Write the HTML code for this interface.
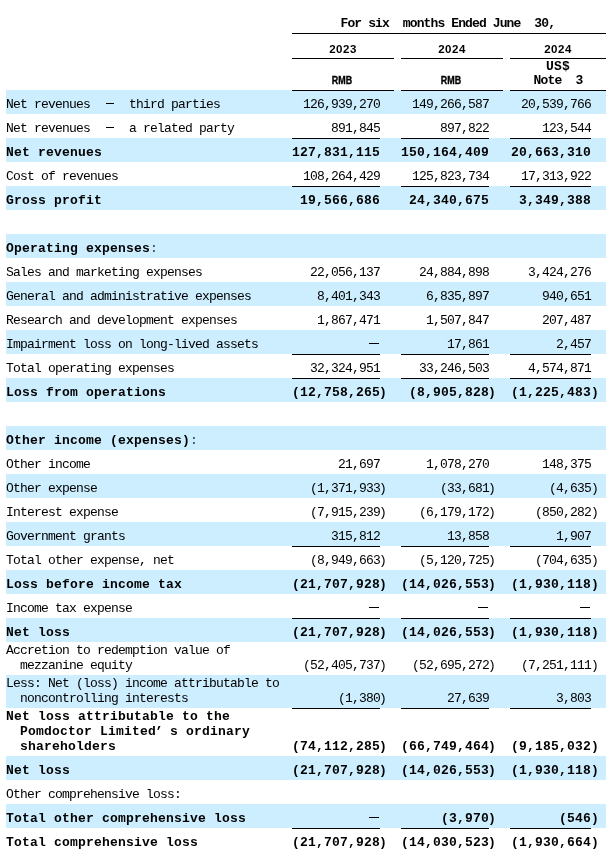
<!DOCTYPE html>
<html><head><meta charset="utf-8"><style>
html,body{margin:0;padding:0;background:#fff;}
body{-webkit-font-smoothing:antialiased;will-change:transform;width:611px;height:850px;overflow:hidden;position:relative;font-family:"Liberation Mono",monospace;font-size:13px;color:#000;}
.b{position:absolute;left:6px;width:600px;background:#cceeff;}
.l{position:absolute;height:1px;background:#000;}
.t{position:absolute;white-space:pre;line-height:15px;letter-spacing:-0.8px;}
.t.B{font-weight:bold;letter-spacing:0.2px;}
.r{text-align:right;}
.h{position:absolute;white-space:pre;line-height:15px;font-weight:bold;}
</style></head><body>

<div class="b" style="top:90px;height:24px"></div>
<div class="b" style="top:138px;height:24px"></div>
<div class="b" style="top:186px;height:24px"></div>
<div class="b" style="top:234px;height:24px"></div>
<div class="b" style="top:282px;height:24px"></div>
<div class="b" style="top:330px;height:24px"></div>
<div class="b" style="top:378px;height:24px"></div>
<div class="b" style="top:426px;height:24px"></div>
<div class="b" style="top:474px;height:24px"></div>
<div class="b" style="top:522px;height:24px"></div>
<div class="b" style="top:570px;height:24px"></div>
<div class="b" style="top:618px;height:24px"></div>
<div class="b" style="top:675px;height:33px"></div>
<div class="b" style="top:756px;height:24px"></div>
<div class="b" style="top:804px;height:24px"></div>
<div class="l" style="top:33px;left:292px;width:314px"></div>
<div class="l" style="top:58px;left:292px;width:102px"></div>
<div class="l" style="top:90px;left:292px;width:102px"></div>
<div class="l" style="top:58px;left:401px;width:102px"></div>
<div class="l" style="top:90px;left:401px;width:102px"></div>
<div class="l" style="top:58px;left:510px;width:96px"></div>
<div class="l" style="top:90px;left:510px;width:96px"></div>
<div class="h" style="top:16px;left:340.5px;font-size:13px;letter-spacing:-0.88px">For six  months Ended June  30,</div>
<div class="h" style="top:42px;left:303px;width:80px;text-align:center;font-family:'Liberation Sans',sans-serif;font-size:11.5px;letter-spacing:0.5px">2023</div>
<div class="h" style="top:42px;left:412px;width:80px;text-align:center;font-family:'Liberation Sans',sans-serif;font-size:11.5px;letter-spacing:0.5px">2024</div>
<div class="h" style="top:42px;left:518px;width:80px;text-align:center;font-family:'Liberation Sans',sans-serif;font-size:11.5px;letter-spacing:0.5px">2024</div>
<div class="h" style="top:73px;left:302px;width:80px;text-align:center;font-family:'Liberation Sans',sans-serif;font-size:10.5px;transform:scaleX(0.85);-webkit-text-stroke:0.35px #000">RMB</div>
<div class="h" style="top:73px;left:411px;width:80px;text-align:center;font-family:'Liberation Sans',sans-serif;font-size:10.5px;transform:scaleX(0.85);-webkit-text-stroke:0.35px #000">RMB</div>
<div class="h" style="top:59px;left:518px;width:80px;text-align:center;font-size:13px;letter-spacing:0.2px">US$</div>
<div class="h" style="top:73px;left:518px;width:80px;text-align:center;font-size:13px;letter-spacing:-0.8px">Note  3</div>
<div class="t" style="top:97px;left:6px">Net revenues</div>
<div class="l" style="top:103px;left:106px;width:8px"></div>
<div class="t" style="top:97px;left:129px">third parties</div>
<div class="t r" style="top:97px;right:231px">126,939,270</div>
<div class="t r" style="top:97px;right:122px">149,266,587</div>
<div class="t r" style="top:97px;right:20px">20,539,766</div>
<div class="t" style="top:121px;left:6px">Net revenues</div>
<div class="l" style="top:127px;left:106px;width:8px"></div>
<div class="t" style="top:121px;left:129px">a related party</div>
<div class="t r" style="top:121px;right:231px">891,845</div>
<div class="t r" style="top:121px;right:122px">897,822</div>
<div class="t r" style="top:121px;right:20px">123,544</div>
<div class="l" style="top:138px;left:292px;width:88px"></div>
<div class="l" style="top:138px;left:401px;width:88px"></div>
<div class="l" style="top:138px;left:510px;width:81px"></div>
<div class="t B" style="top:145px;left:6px">Net revenues</div>
<div class="t B r" style="top:145px;right:231px">127,831,115</div>
<div class="t B r" style="top:145px;right:122px">150,164,409</div>
<div class="t B r" style="top:145px;right:20px">20,663,310</div>
<div class="t" style="top:169px;left:6px">Cost of revenues</div>
<div class="t r" style="top:169px;right:231px">108,264,429</div>
<div class="t r" style="top:169px;right:122px">125,823,734</div>
<div class="t r" style="top:169px;right:20px">17,313,922</div>
<div class="l" style="top:186px;left:292px;width:88px"></div>
<div class="l" style="top:186px;left:401px;width:88px"></div>
<div class="l" style="top:186px;left:510px;width:81px"></div>
<div class="t B" style="top:193px;left:6px">Gross profit</div>
<div class="t B r" style="top:193px;right:231px">19,566,686</div>
<div class="t B r" style="top:193px;right:122px">24,340,675</div>
<div class="t B r" style="top:193px;right:20px">3,349,388</div>
<div class="t B" style="top:241px;left:6px">Operating expenses</div>
<div class="t" style="top:241px;left:150px;color:#333">:</div>
<div class="t" style="top:265px;left:6px">Sales and marketing expenses</div>
<div class="t r" style="top:265px;right:231px">22,056,137</div>
<div class="t r" style="top:265px;right:122px">24,884,898</div>
<div class="t r" style="top:265px;right:20px">3,424,276</div>
<div class="t" style="top:289px;left:6px">General and administrative expenses</div>
<div class="t r" style="top:289px;right:231px">8,401,343</div>
<div class="t r" style="top:289px;right:122px">6,835,897</div>
<div class="t r" style="top:289px;right:20px">940,651</div>
<div class="t" style="top:313px;left:6px">Research and development expenses</div>
<div class="t r" style="top:313px;right:231px">1,867,471</div>
<div class="t r" style="top:313px;right:122px">1,507,847</div>
<div class="t r" style="top:313px;right:20px">207,487</div>
<div class="t" style="top:337px;left:6px">Impairment loss on long-lived assets</div>
<div class="l" style="top:343px;left:369px;width:10px"></div>
<div class="t r" style="top:337px;right:122px">17,861</div>
<div class="t r" style="top:337px;right:20px">2,457</div>
<div class="l" style="top:354px;left:292px;width:88px"></div>
<div class="l" style="top:354px;left:401px;width:88px"></div>
<div class="l" style="top:354px;left:510px;width:81px"></div>
<div class="t" style="top:361px;left:6px">Total operating expenses</div>
<div class="t r" style="top:361px;right:231px">32,324,951</div>
<div class="t r" style="top:361px;right:122px">33,246,503</div>
<div class="t r" style="top:361px;right:20px">4,574,871</div>
<div class="l" style="top:378px;left:292px;width:88px"></div>
<div class="l" style="top:378px;left:401px;width:88px"></div>
<div class="l" style="top:378px;left:510px;width:81px"></div>
<div class="t B" style="top:385px;left:6px">Loss from operations</div>
<div class="t B r" style="top:385px;right:231px">(12,758,265</div>
<div class="t B" style="top:385px;left:379px">)</div>
<div class="t B r" style="top:385px;right:122px">(8,905,828</div>
<div class="t B" style="top:385px;left:488px">)</div>
<div class="t B r" style="top:385px;right:20px">(1,225,483</div>
<div class="t B" style="top:385px;left:591px">)</div>
<div class="t B" style="top:433px;left:6px">Other income (expenses)</div>
<div class="t" style="top:433px;left:190px;color:#333">:</div>
<div class="t" style="top:457px;left:6px">Other income</div>
<div class="t r" style="top:457px;right:231px">21,697</div>
<div class="t r" style="top:457px;right:122px">1,078,270</div>
<div class="t r" style="top:457px;right:20px">148,375</div>
<div class="t" style="top:481px;left:6px">Other expense</div>
<div class="t r" style="top:481px;right:231px">(1,371,933</div>
<div class="t" style="top:481px;left:379px">)</div>
<div class="t r" style="top:481px;right:122px">(33,681</div>
<div class="t" style="top:481px;left:488px">)</div>
<div class="t r" style="top:481px;right:20px">(4,635</div>
<div class="t" style="top:481px;left:591px">)</div>
<div class="t" style="top:505px;left:6px">Interest expense</div>
<div class="t r" style="top:505px;right:231px">(7,915,239</div>
<div class="t" style="top:505px;left:379px">)</div>
<div class="t r" style="top:505px;right:122px">(6,179,172</div>
<div class="t" style="top:505px;left:488px">)</div>
<div class="t r" style="top:505px;right:20px">(850,282</div>
<div class="t" style="top:505px;left:591px">)</div>
<div class="t" style="top:529px;left:6px">Government grants</div>
<div class="t r" style="top:529px;right:231px">315,812</div>
<div class="t r" style="top:529px;right:122px">13,858</div>
<div class="t r" style="top:529px;right:20px">1,907</div>
<div class="l" style="top:546px;left:292px;width:88px"></div>
<div class="l" style="top:546px;left:401px;width:88px"></div>
<div class="l" style="top:546px;left:510px;width:81px"></div>
<div class="t" style="top:553px;left:6px">Total other expense, net</div>
<div class="t r" style="top:553px;right:231px">(8,949,663</div>
<div class="t" style="top:553px;left:379px">)</div>
<div class="t r" style="top:553px;right:122px">(5,120,725</div>
<div class="t" style="top:553px;left:488px">)</div>
<div class="t r" style="top:553px;right:20px">(704,635</div>
<div class="t" style="top:553px;left:591px">)</div>
<div class="t B" style="top:577px;left:6px">Loss before income tax</div>
<div class="t B r" style="top:577px;right:231px">(21,707,928</div>
<div class="t B" style="top:577px;left:379px">)</div>
<div class="t B r" style="top:577px;right:122px">(14,026,553</div>
<div class="t B" style="top:577px;left:488px">)</div>
<div class="t B r" style="top:577px;right:20px">(1,930,118</div>
<div class="t B" style="top:577px;left:591px">)</div>
<div class="t" style="top:601px;left:6px">Income tax expense</div>
<div class="l" style="top:607px;left:369px;width:10px"></div>
<div class="l" style="top:607px;left:478px;width:10px"></div>
<div class="l" style="top:607px;left:580px;width:10px"></div>
<div class="l" style="top:618px;left:292px;width:88px"></div>
<div class="l" style="top:618px;left:401px;width:88px"></div>
<div class="l" style="top:618px;left:510px;width:81px"></div>
<div class="t B" style="top:625px;left:6px">Net loss</div>
<div class="t B r" style="top:625px;right:231px">(21,707,928</div>
<div class="t B" style="top:625px;left:379px">)</div>
<div class="t B r" style="top:625px;right:122px">(14,026,553</div>
<div class="t B" style="top:625px;left:488px">)</div>
<div class="t B r" style="top:625px;right:20px">(1,930,118</div>
<div class="t B" style="top:625px;left:591px">)</div>
<div class="t" style="top:643px;left:6px">Accretion to redemption value of</div>
<div class="t" style="top:658px;left:6px">  mezzanine equity</div>
<div class="t r" style="top:658px;right:231px">(52,405,737</div>
<div class="t" style="top:658px;left:379px">)</div>
<div class="t r" style="top:658px;right:122px">(52,695,272</div>
<div class="t" style="top:658px;left:488px">)</div>
<div class="t r" style="top:658px;right:20px">(7,251,111</div>
<div class="t" style="top:658px;left:591px">)</div>
<div class="t" style="top:676px;left:6px">Less: Net (loss) income attributable to</div>
<div class="t" style="top:691px;left:6px">  noncontrolling interests</div>
<div class="t r" style="top:691px;right:231px">(1,380</div>
<div class="t" style="top:691px;left:379px">)</div>
<div class="t r" style="top:691px;right:122px">27,639</div>
<div class="t r" style="top:691px;right:20px">3,803</div>
<div class="l" style="top:708px;left:292px;width:88px"></div>
<div class="l" style="top:708px;left:401px;width:88px"></div>
<div class="l" style="top:708px;left:510px;width:81px"></div>
<div class="t B" style="top:709px;left:6px">Net loss attributable to the</div>
<div class="t B" style="top:724px;left:20px">Pomdoctor Limited</div>
<div class="t B" style="top:724px;left:155px">’</div>
<div class="t B" style="top:724px;left:170px">s ordinary</div>
<div class="t B" style="top:739px;left:20px">shareholders</div>
<div class="t B r" style="top:739px;right:231px">(74,112,285</div>
<div class="t B" style="top:739px;left:379px">)</div>
<div class="t B r" style="top:739px;right:122px">(66,749,464</div>
<div class="t B" style="top:739px;left:488px">)</div>
<div class="t B r" style="top:739px;right:20px">(9,185,032</div>
<div class="t B" style="top:739px;left:591px">)</div>
<div class="t B" style="top:763px;left:6px">Net loss</div>
<div class="t B r" style="top:763px;right:231px">(21,707,928</div>
<div class="t B" style="top:763px;left:379px">)</div>
<div class="t B r" style="top:763px;right:122px">(14,026,553</div>
<div class="t B" style="top:763px;left:488px">)</div>
<div class="t B r" style="top:763px;right:20px">(1,930,118</div>
<div class="t B" style="top:763px;left:591px">)</div>
<div class="t" style="top:787px;left:6px">Other comprehensive loss:</div>
<div class="t B" style="top:811px;left:6px">Total other comprehensive loss</div>
<div class="l" style="top:817px;left:369px;width:10px"></div>
<div class="t B r" style="top:811px;right:122px">(3,970</div>
<div class="t B" style="top:811px;left:488px">)</div>
<div class="t B r" style="top:811px;right:20px">(546</div>
<div class="t B" style="top:811px;left:591px">)</div>
<div class="l" style="top:828px;left:292px;width:88px"></div>
<div class="l" style="top:828px;left:401px;width:88px"></div>
<div class="l" style="top:828px;left:510px;width:81px"></div>
<div class="t B" style="top:835px;left:6px">Total comprehensive loss</div>
<div class="t B r" style="top:835px;right:231px">(21,707,928</div>
<div class="t B" style="top:835px;left:379px">)</div>
<div class="t B r" style="top:835px;right:122px">(14,030,523</div>
<div class="t B" style="top:835px;left:488px">)</div>
<div class="t B r" style="top:835px;right:20px">(1,930,664</div>
<div class="t B" style="top:835px;left:591px">)</div>
</body></html>
